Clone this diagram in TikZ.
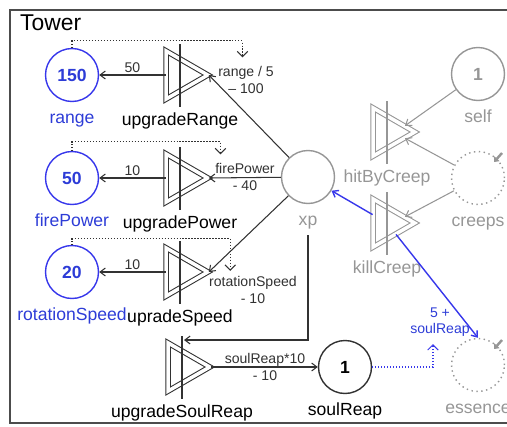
\documentclass[tikz,border=0pt]{standalone}
\usepackage{fontspec}
\setmainfont{Liberation Sans}
\usepackage{tikz}
\usetikzlibrary{arrows.meta,calc,shapes.geometric}
\definecolor{poolblue}{RGB}{55,55,235}
\definecolor{txtblue}{RGB}{45,60,215}
\definecolor{inkgray}{RGB}{150,150,150}
\definecolor{linedark}{RGB}{50,50,50}

\begin{document}
\begin{tikzpicture}[% one unit is one pixel of the sketch, y runs down
    x=0.02cm,y=-0.02cm,
    every node/.style={align=center},
    every label/.style={text height=1.6ex,text depth=0.4ex},
    every edge/.style={draw,line width=0.6pt},
    pool/.style={circle,draw,line width=0.8pt,minimum size=1.06cm,inner sep=0pt,
        font=\bfseries,label distance=2pt},
    conv/.style={regular polygon,regular polygon sides=3,regular polygon rotate=-90,
        draw,double,double distance=2pt,line width=0.6pt,minimum size=1.11cm,
        inner sep=0pt},
    clbl/.style={yshift=-7.5pt},% labels under the converters
    elbl/.style={font=\footnotesize,inner sep=1pt,text=linedark},
    res/.style={-{Straight Barb[length=3pt,width=4.5pt]}},
    state/.style={line width=0.6pt,dash pattern=on 0.7pt off 1pt,
        -{Straight Barb[length=3pt,width=6pt]}}
  ]
  \useasboundingbox (0,0) rectangle (507,426);

  % pools of the blue player
  \node[pool,draw=poolblue,text=txtblue,label={[text=txtblue]below:range}] (range) at (72,75) {150};
  \node[pool,draw=poolblue,text=txtblue,label={[text=txtblue]below:firePower}] (firePower) at (72,178) {50};
  \node[pool,draw=poolblue,text=txtblue,label={[text=txtblue]below:rotationSpeed}] (rotSpeed) at (72,272) {20};

  % upgrade converters
  \node[conv,draw=linedark,label={[clbl]below:upgradeRange}] (uR) at (180,75) {};
  \node[conv,draw=linedark,label={[clbl]below:upgradePower}] (uP) at (180,178) {};
  \node[conv,draw=linedark,label={[clbl]below:upradeSpeed}] (uS) at (180,272) {};
  \node[conv,draw=linedark,label={[clbl]below:upgradeSoulReap}] (uSR) at (182,367) {};

  \node[pool,draw=inkgray,label={[name=xpl,fill=white,text=inkgray]below:xp}] (xp) at (308,177) {};
  \node[pool,draw=linedark] [label=below:soulReap] (soulReap) at (345,367) {1};

  % creeps side
  \node[pool,draw=inkgray,text=inkgray,label={[text=inkgray]below:self}] (self) at (478,74) {1};
  \node[pool,draw=inkgray,dotted,label={[text=inkgray]below:creeps}] (creeps) at (478,178) {};
  \node[pool,draw=inkgray,dotted,label={[text=inkgray]below:essence}] (essence) at (478,365) {};
  \node[conv,draw=inkgray,label={[clbl,text=inkgray]below:hitByCreep}] (hit) at (387,132) {};
  \node[conv,draw=inkgray,label={[clbl,text=inkgray]below:killCreep}] (kill) at (387,223) {};

  % bars of the converters
  \foreach \c/\col in {uR/linedark,uP/linedark,uS/linedark,uSR/linedark,hit/inkgray,kill/inkgray}
    \draw[\col,line width=0.8pt] (\c.center) ++(0,-31) -- ++(0,63);

  % labels on the resource connections
  \node[elbl] (lR) at (246,80) {range / 5\\– 100};
  \node[elbl] (lP) at (245,177) {firePower\\- 40};
  \node[elbl] (lS) at (253,290) {rotationSpeed\\- 10};
  \node[elbl] (lSR) at (265,367) {soulReap*10\\- 10};
  \node[elbl,text=txtblue] (l5) at (440,322) {5 +\\soulReap};

  \path[res,linedark]
    (uR) edge node[elbl,above] {50} (range)
    (uP) edge node[elbl,above] {10} (firePower)
    (uS) edge node[elbl,above] {10} (rotSpeed)
    (xp) edge (uR.corner 1)
    (xp) edge (uP.corner 1)
    (xp) edge (uS.corner 1)
    (uSR) edge (soulReap)
    ;
  \draw[linedark,line width=0.6pt] (xp.south) -- (xpl.north);
  \draw[res,linedark,line width=0.6pt] (xpl.south) |- ($(uSR.center)+(2,-27)$);

  \path[res,inkgray]
    (self) edge ($(hit.corner 1)!0.25!(hit.corner 2)$)
    (creeps) edge ($(hit.corner 1)!0.25!(hit.corner 3)$)
    (creeps) edge ($(kill.corner 1)!0.25!(kill.corner 2)$)
    ;
  \path[res,poolblue]
    (kill) edge [line width=0.8pt] (xp)
    (kill) edge [line width=0.8pt] (essence.north)
    ;

  % state connections
  \draw[state,linedark] (range.north) -- ++(0,-7) -| ([xshift=-2pt,yshift=4pt]lR.north);
  \draw[state,linedark] (firePower.north) -- ++(0,-9) -| ([xshift=-14pt,yshift=4pt]lP.north);
  \draw[state,linedark] (rotSpeed.north) -- ++(0,-6) -| ([xshift=-13pt,yshift=2pt]lS.north);
  \draw[state,poolblue] (soulReap.east) -| ([xshift=-4pt,yshift=-3pt]l5.south);

  % little trigger marks on the dotted pools
  \foreach \p in {creeps,essence}
    \draw[inkgray,line width=1.4pt,-{Triangle[length=2.5pt,width=4pt]}] ($(\p.center)+(24,-25)$) -- ++(-8,9);

  % the Tower group
  \draw[black!70,line width=1.2pt] (10,10) rectangle (540,423);
  \node[anchor=west,font=\fontsize{13}{15}\selectfont] (title) at (14,23) {Tower};
\end{tikzpicture}
\end{document}
